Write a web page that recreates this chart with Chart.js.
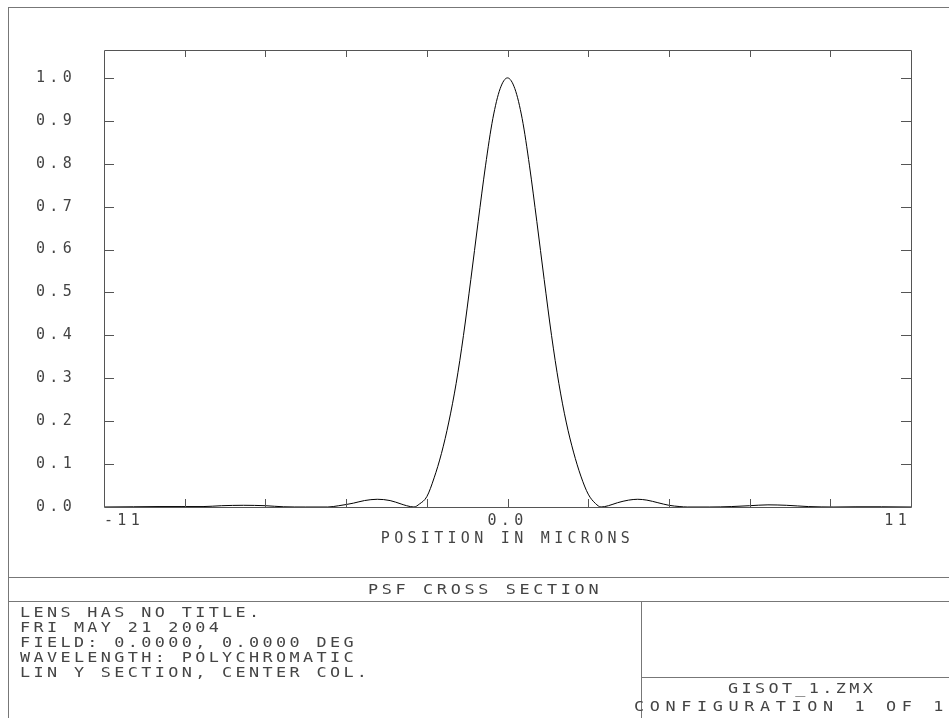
<!DOCTYPE html>
<html>
<head>
<meta charset="utf-8">
<title>PSF Cross Section</title>
<script src="https://cdn.jsdelivr.net/npm/chart.js@4.4.1/dist/chart.umd.min.js"></script>
<style>
  body { margin: 0; background: #fff; }
  #wrap { position: relative; width: 949px; height: 718px; overflow: hidden; background: #fff; }
  #psfChart { position: absolute; left: 0; top: 0; }
  .rule { position: absolute; background: #777; }
  .txt {
    position: absolute;
    font-family: "DejaVu Sans Mono", monospace;
    font-size: 14px;
    line-height: 15px;
    letter-spacing: 2.8px;
    color: #444;
    white-space: pre;
    transform: scaleX(1.2);
    transform-origin: left top;
  }
</style>
</head>
<body>
<div id="wrap">
  <canvas id="psfChart" width="949" height="718"></canvas>

  <!-- cadre -->
  <div class="rule" style="left:8px;top:7px;width:941px;height:1px"></div>
  <div class="rule" style="left:8px;top:7px;width:1px;height:711px"></div>
  <div class="rule" style="left:8px;top:577px;width:941px;height:1px"></div>
  <div class="rule" style="left:8px;top:601px;width:941px;height:1px"></div>
  <div class="rule" style="left:641px;top:601px;width:1px;height:117px"></div>
  <div class="rule" style="left:641px;top:677px;width:308px;height:1px"></div>

  <div class="txt" style="left:368px;top:582px;letter-spacing:3.05px">PSF CROSS SECTION</div>
  <div class="txt" style="left:20px;top:605px">LENS HAS NO TITLE.
FRI MAY 21 2004
FIELD: 0.0000, 0.0000 DEG
WAVELENGTH: POLYCHROMATIC
LIN Y SECTION, CENTER COL.</div>
  <div class="txt" style="left:728px;top:681px">GISOT_1.ZMX</div>
  <div class="txt" style="left:634px;top:699px;letter-spacing:4.7px">CONFIGURATION 1 OF 1</div>
</div>

<script>
// position (microns) and relative intensity
const positions = [
  -11, -10.2, -9.5, -8.9, -8.3, -7.8, -7.2, -6.6, -6.1, -5.5, -4.9, -4.6, -4.2, -3.9,
  -3.55, -3.2, -2.9, -2.75, -2.55, -2.4, -2.2, -2.0, -1.8, -1.6, -1.4, -1.2, -1.0,
  -0.8, -0.6, -0.4, -0.2, 0, 0.2, 0.4, 0.6, 0.8, 1.0, 1.2, 1.4, 1.6, 1.8, 2.0, 2.2,
  2.4, 2.55, 2.75, 3.0, 3.3, 3.55, 3.8, 4.1, 4.4, 4.7, 4.9, 5.5, 6.1, 6.6, 7.1, 7.6,
  8.2, 8.9, 9.5, 10.2, 11
];
const intensity = [
  0.000, 0.0005, 0.001, 0.001, 0.001, 0.003, 0.004, 0.003, 0.0005, 0.000, 0.000, 0.003, 0.009, 0.015,
  0.018, 0.015, 0.007, 0.003, 0.000, 0.007, 0.024, 0.068, 0.125, 0.198, 0.288, 0.400, 0.530,
  0.665, 0.795, 0.905, 0.975, 1.000, 0.975, 0.905, 0.795, 0.665, 0.530, 0.400, 0.288, 0.198, 0.128, 0.072, 0.030,
  0.008, 0.000, 0.003, 0.010, 0.016, 0.018, 0.016, 0.010, 0.004, 0.001, 0.000, 0.000, 0.001, 0.003, 0.005, 0.004,
  0.001, 0.000, 0.0005, 0.0005, 0.000
];

const xTickValues = [-11, -8.8, -6.6, -4.4, -2.2, 0, 2.2, 4.4, 6.6, 8.8, 11];
const xTickLabels = ["-11", "", "", "", "", "0.0", "", "", "", "", "11"];
const yTickValues = [0, 0.1, 0.2, 0.3, 0.4, 0.5, 0.6, 0.7, 0.8, 0.9, 1.0];
const yTickLabels = ["0.0", "0.1", "0.2", "0.3", "0.4", "0.5", "0.6", "0.7", "0.8", "0.9", "1.0"];

document.addEventListener("DOMContentLoaded", function () {
  const ctx = document.getElementById("psfChart");

  // canvas letter spacing, like the plotter font
  const spacingPlugin = {
    id: "spacing",
    beforeDraw: function (chart) {
      chart.ctx.letterSpacing = "4.3px";
    },
  };

  // plot box and inward tick marks
  const framePlugin = {
    id: "frame",
    afterDraw: function (chart) {
      const c = chart.ctx;
      const a = chart.chartArea;
      const xs = chart.scales.x;
      const ys = chart.scales.y;
      c.save();
      c.strokeStyle = "#555";
      c.lineWidth = 1;
      c.beginPath();
      c.rect(Math.round(a.left) + 0.5, Math.round(a.top) + 0.5,
        Math.round(a.right - a.left), Math.round(a.bottom - a.top));
      xTickValues.slice(1, -1).forEach(function (v) {
        const px = Math.round(xs.getPixelForValue(v)) + 0.5;
        c.moveTo(px, a.bottom);
        c.lineTo(px, a.bottom - 8);
        c.moveTo(px, a.top);
        c.lineTo(px, a.top + 7);
      });
      yTickValues.slice(1).forEach(function (v) {
        const py = Math.round(ys.getPixelForValue(v)) + 0.5;
        c.moveTo(a.left, py);
        c.lineTo(a.left + 10, py);
        c.moveTo(a.right, py);
        c.lineTo(a.right - 10, py);
      });
      c.stroke();
      c.restore();
    },
  };

  const tickFont = { family: "DejaVu Sans Mono", size: 15 };

  new Chart(ctx, {
    type: "line",
    data: {
      datasets: [
        {
          data: positions.map(function (p, i) {
            return { x: p, y: intensity[i] };
          }),
          borderColor: "#000",
          borderWidth: 1,
          pointRadius: 0,
          fill: false,
          cubicInterpolationMode: "monotone",
        },
      ],
    },
    options: {
      responsive: false,
      animation: false,
      devicePixelRatio: 1,
      layout: { padding: { top: 50, left: 0, right: 38, bottom: 167 } },
      plugins: {
        legend: { display: false },
        tooltip: { enabled: false },
      },
      scales: {
        x: {
          type: "linear",
          min: -11,
          max: 11,
          afterBuildTicks: function (scale) {
            scale.ticks = xTickValues.map(function (v) {
              return { value: v };
            });
          },
          afterFit: function (scale) {
            scale.height = 44;
          },
          grid: { display: false, drawTicks: false },
          border: { display: false },
          ticks: {
            autoSkip: false,
            maxRotation: 0,
            align: "inner",
            padding: 5,
            color: "#444",
            font: tickFont,
            callback: function (value, index) {
              return xTickLabels[index];
            },
          },
          title: {
            display: true,
            text: "POSITION IN MICRONS",
            color: "#444",
            font: tickFont,
            padding: { top: 4, bottom: 3 },
          },
        },
        y: {
          min: 0,
          max: 1.065,
          afterBuildTicks: function (scale) {
            scale.ticks = yTickValues.map(function (v) {
              return { value: v };
            });
          },
          afterFit: function (scale) {
            scale.width = 104;
          },
          grid: { display: false, drawTicks: false },
          border: { display: false },
          ticks: {
            padding: 28,
            color: "#444",
            font: tickFont,
            callback: function (value, index) {
              return yTickLabels[index];
            },
          },
        },
      },
    },
    plugins: [spacingPlugin, framePlugin],
  });
});
</script>
</body>
</html>
